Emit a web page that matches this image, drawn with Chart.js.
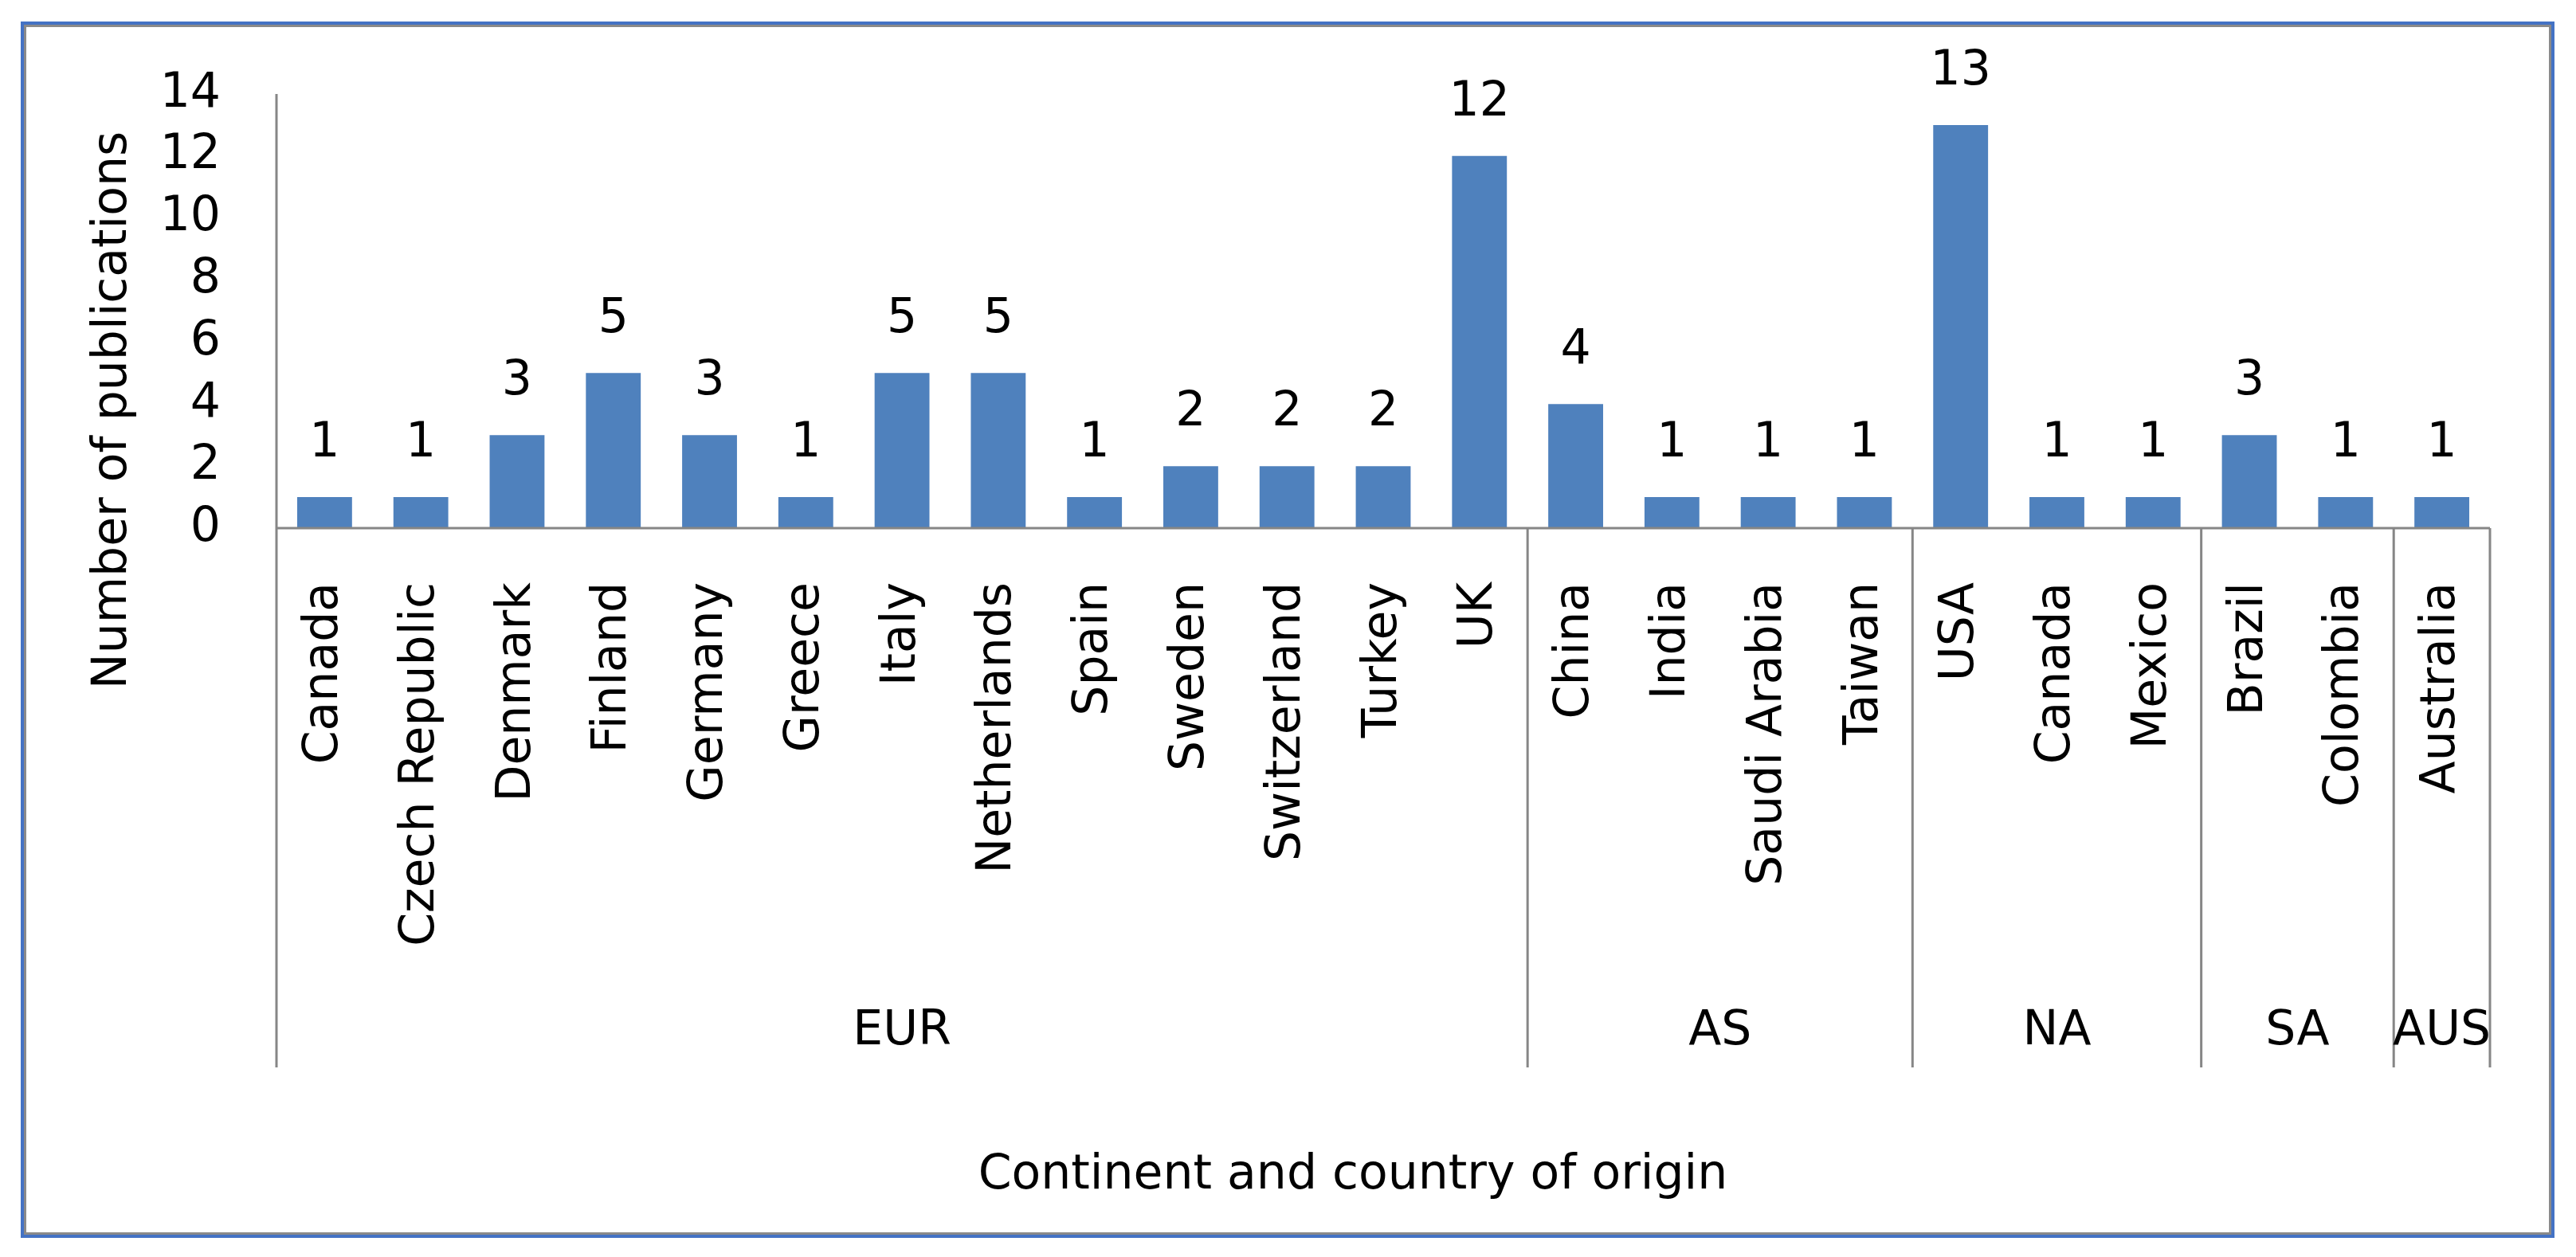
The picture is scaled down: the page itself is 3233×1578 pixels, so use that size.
<!DOCTYPE html>
<html>
<head>
<meta charset="utf-8">
<script src="https://cdn.jsdelivr.net/npm/chart.js@4.4.1/dist/chart.umd.min.js"></script>
<style>
  html, body { margin: 0; padding: 0; background: #fff; }
</style>
</head>
<body>
<canvas id="myChart" width="3233" height="1578"></canvas>
<script>
// countries, in the order of the figure (grouped by continent)
const countries = [
  "Canada", "Czech Republic", "Denmark", "Finland", "Germany", "Greece",
  "Italy", "Netherlands", "Spain", "Sweden", "Switzerland", "Turkey", "UK",
  "China", "India", "Saudi Arabia", "Taiwan",
  "USA", "Canada", "Mexico",
  "Brazil", "Colombia",
  "Australia",
];
const publications = [1, 1, 3, 5, 3, 1, 5, 5, 1, 2, 2, 2, 12, 4, 1, 1, 1, 13, 1, 1, 3, 1, 1];
const continents = ["EUR", "AS", "NA", "SA", "AUS"];
const continentSizes = [13, 4, 3, 2, 1];
const yTicks = [0, 2, 4, 6, 8, 10, 12, 14];

const yTitle = "Number of publications";
const xTitle = "Continent and country of origin";

const FONT = "'DejaVu Sans', sans-serif";
const FS = 60;

// frame, axis lines, continent row, bar values and titles
const extras = {
  id: "extras",
  beforeDraw(chart) {
    const ctx = chart.ctx;
    ctx.save();
    ctx.fillStyle = "#fff";
    ctx.fillRect(0, 0, chart.width, chart.height);
    ctx.lineWidth = 4;
    ctx.strokeStyle = "#4472C4";
    ctx.strokeRect(28, 29, 3176, 1523);
    ctx.lineWidth = 3;
    ctx.strokeStyle = "#8a8a8a";
    ctx.strokeRect(31.5, 32.5, 3169, 1516);
    ctx.restore();
  },
  afterDraw(chart) {
    const ctx = chart.ctx;
    const x = chart.scales.x;
    const y = chart.scales.y;
    const top = y.getPixelForValue(yTicks[yTicks.length - 1]);
    const base = y.getPixelForValue(0);
    const groupBottom = 1340;

    ctx.save();
    ctx.strokeStyle = "#868686";
    ctx.lineWidth = 3;
    const line = (x1, y1, x2, y2) => {
      ctx.beginPath();
      ctx.moveTo(x1, y1);
      ctx.lineTo(x2, y2);
      ctx.stroke();
    };
    line(x.left, base, x.right, base);
    line(x.left, top, x.left, groupBottom);

    ctx.fillStyle = "#000";
    ctx.font = FS + "px " + FONT;
    ctx.textAlign = "center";
    ctx.textBaseline = "alphabetic";

    let idx = 0;
    continentSizes.forEach((n, i) => {
      const start = x.getPixelForValue(idx - 0.5);
      idx += n;
      const end = x.getPixelForValue(idx - 0.5);
      line(end, base, end, groupBottom);
      ctx.fillText(continents[i], (start + end) / 2, 1311);
    });

    // value labels above the bars
    const meta = chart.getDatasetMeta(0);
    meta.data.forEach((bar, i) => {
      ctx.fillText(String(publications[i]), bar.x, bar.y - 51);
    });

    // axis titles
    ctx.fillText(xTitle, 1698, 1492);
    ctx.translate(158, 515);
    ctx.rotate(-Math.PI / 2);
    ctx.fillText(yTitle, 0, 0);
    ctx.restore();
  },
};

const myChart = new Chart(document.getElementById("myChart").getContext("2d"), {
  type: "bar",
  data: {
    labels: countries,
    datasets: [
      {
        label: "Number of publications",
        data: publications,
        backgroundColor: "#4F81BD",
        borderWidth: 0,
        categoryPercentage: 1,
        barPercentage: 0.57,
      },
    ],
  },
  options: {
    responsive: false,
    animation: false,
    layout: { padding: { left: 0, right: 108, top: 118, bottom: 0 } },
    plugins: {
      legend: { display: false },
      tooltip: { enabled: false },
    },
    scales: {
      x: {
        grid: { display: false, drawTicks: false },
        border: { display: false },
        ticks: {
          autoSkip: false,
          minRotation: 90,
          maxRotation: 90,
          padding: 68,
          color: "#000",
          font: { family: FONT, size: FS },
        },
        afterFit(scale) {
          scale.height = 915;
        },
      },
      y: {
        min: yTicks[0],
        max: yTicks[yTicks.length - 1],
        afterBuildTicks(scale) {
          scale.ticks = yTicks.map((v) => ({ value: v }));
        },
        grid: { display: false, drawTicks: false },
        border: { display: false },
        ticks: {
          padding: 70,
          color: "#000",
          font: { family: FONT, size: FS },
        },
        afterFit(scale) {
          scale.width = 347;
        },
      },
    },
  },
  plugins: [extras],
});
</script>
</body>
</html>
